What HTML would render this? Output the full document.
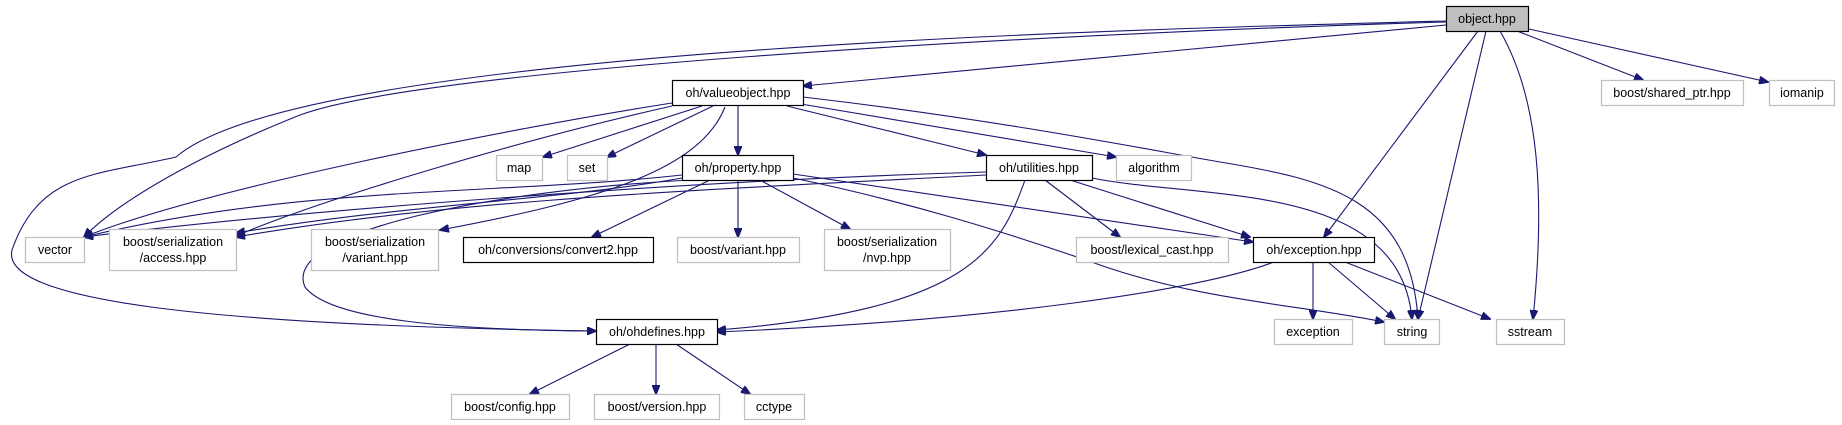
<!DOCTYPE html>
<html><head><meta charset="utf-8"><style>
html,body{margin:0;padding:0;background:#fff;}
svg{display:block;}
text{font-family:"Liberation Sans",sans-serif;font-size:12.5px;fill:#000;text-anchor:middle;}
.g{fill:#fff;stroke:#bfbfbf;stroke-width:1.2;}
.b{fill:#fff;stroke:#000;stroke-width:1.2;}
.e{fill:none;stroke:#191970;stroke-width:1.1;marker-end:url(#a);}
</style></head><body>
<svg width="1842" height="425" viewBox="0 0 1842 425" xmlns="http://www.w3.org/2000/svg">
<defs><marker id="a" markerWidth="10" markerHeight="8" refX="9" refY="4" orient="auto" markerUnits="userSpaceOnUse"><path d="M0,0 L10,4 L0,8 z" fill="#191970" stroke="#191970"/></marker></defs>
<path class="e" d="M1446,25 L803,86"/>
<path class="e" d="M1446,22 C1000,35 420,70 300,115 C200,155 120,200 84,237"/>
<path class="e" d="M1446,21 C1100,30 300,50 176,157 C100,175 40,170 12,250 C0,300 200,325 596,331"/>
<path class="e" d="M1478,31 L1324,237"/>
<path class="e" d="M1486,31 L1418,319"/>
<path class="e" d="M1500,31 C1540,100 1545,200 1533,319"/>
<path class="e" d="M1517,31 L1643,80"/>
<path class="e" d="M1529,29 L1768,82"/>
<path class="e" d="M702,106 L543,157"/>
<path class="e" d="M713,106 L607,157"/>
<path class="e" d="M738,106 L738,155"/>
<path class="e" d="M672,103 C500,130 200,190 84,237"/>
<path class="e" d="M672,106 C520,140 320,200 236,236"/>
<path class="e" d="M725,107 C700,170 600,200 440,230"/>
<path class="e" d="M787,106 L986,155"/>
<path class="e" d="M795,103 L1116,157"/>
<path class="e" d="M803,97 C1000,120 1150,150 1220,162 C1330,180 1410,200 1418,319"/>
<path class="e" d="M682,175 C500,195 300,185 84,237"/>
<path class="e" d="M682,178 C560,200 400,205 236,233"/>
<path class="e" d="M690,180 C500,190 280,230 305,287 C330,320 450,330 596,331"/>
<path class="e" d="M710,180 L592,237"/>
<path class="e" d="M738,180 L738,237"/>
<path class="e" d="M760,180 L850,229"/>
<path class="e" d="M793,174 L1253,242"/>
<path class="e" d="M793,178 C900,200 1000,230 1100,265 C1200,300 1300,305 1384,322"/>
<path class="e" d="M986,172 C700,180 300,210 84,237"/>
<path class="e" d="M986,175 C700,190 450,200 236,237"/>
<path class="e" d="M1025,180 C1000,250 970,310 717,330"/>
<path class="e" d="M1045,180 L1120,237"/>
<path class="e" d="M1070,180 L1250,237"/>
<path class="e" d="M1092,178 C1200,200 1400,180 1412,319"/>
<path class="e" d="M1274,262 C1200,290 1000,320 717,332"/>
<path class="e" d="M1313,262 L1313,319"/>
<path class="e" d="M1328,262 L1395,319"/>
<path class="e" d="M1345,262 L1490,319"/>
<path class="e" d="M630,344 L530,394"/>
<path class="e" d="M656,344 L656,394"/>
<path class="e" d="M676,344 L750,394"/>
<rect x="1446.5" y="6.5" width="82" height="25" fill="#bfbfbf" stroke="#000" stroke-width="1.2"/><text x="1487" y="23">object.hpp</text>
<rect class="b" x="672.5" y="80.5" width="131" height="25"/><text x="738" y="97">oh/valueobject.hpp</text>
<rect class="g" x="1601.5" y="80.5" width="142" height="25"/><text x="1672" y="97">boost/shared_ptr.hpp</text>
<rect class="g" x="1769.5" y="80.5" width="65" height="25"/><text x="1802" y="97">iomanip</text>
<rect class="g" x="496.5" y="155.5" width="46" height="25"/><text x="519" y="172">map</text>
<rect class="g" x="567.5" y="155.5" width="40" height="25"/><text x="587" y="172">set</text>
<rect class="b" x="682.5" y="155.5" width="111" height="25"/><text x="738" y="172">oh/property.hpp</text>
<rect class="b" x="986.5" y="155.5" width="106" height="25"/><text x="1039" y="172">oh/utilities.hpp</text>
<rect class="g" x="1116.5" y="155.5" width="75" height="25"/><text x="1154" y="172">algorithm</text>
<rect class="g" x="25.5" y="237.5" width="59" height="25"/><text x="55" y="254">vector</text>
<rect class="g" x="109.5" y="229.5" width="127" height="41"/><text x="173" y="246">boost/serialization</text><text x="173" y="262">/access.hpp</text>
<rect class="g" x="311.5" y="229.5" width="127" height="41"/><text x="375" y="246">boost/serialization</text><text x="375" y="262">/variant.hpp</text>
<rect class="b" x="463.5" y="237.5" width="190" height="25"/><text x="558" y="254">oh/conversions/convert2.hpp</text>
<rect class="g" x="677.5" y="237.5" width="122" height="25"/><text x="738" y="254">boost/variant.hpp</text>
<rect class="g" x="824.5" y="229.5" width="126" height="41"/><text x="887" y="246">boost/serialization</text><text x="887" y="262">/nvp.hpp</text>
<rect class="g" x="1076.5" y="237.5" width="152" height="25"/><text x="1152" y="254">boost/lexical_cast.hpp</text>
<rect class="b" x="1253.5" y="237.5" width="121" height="25"/><text x="1314" y="254">oh/exception.hpp</text>
<rect class="b" x="596.5" y="319.5" width="121" height="25"/><text x="657" y="336">oh/ohdefines.hpp</text>
<rect class="g" x="1274.5" y="319.5" width="78" height="25"/><text x="1313" y="336">exception</text>
<rect class="g" x="1384.5" y="319.5" width="55" height="25"/><text x="1412" y="336">string</text>
<rect class="g" x="1496.5" y="319.5" width="68" height="25"/><text x="1530" y="336">sstream</text>
<rect class="g" x="451.5" y="394.5" width="118" height="25"/><text x="510" y="411">boost/config.hpp</text>
<rect class="g" x="594.5" y="394.5" width="125" height="25"/><text x="657" y="411">boost/version.hpp</text>
<rect class="g" x="744.5" y="394.5" width="60" height="25"/><text x="774" y="411">cctype</text>
</svg>
</body></html>
